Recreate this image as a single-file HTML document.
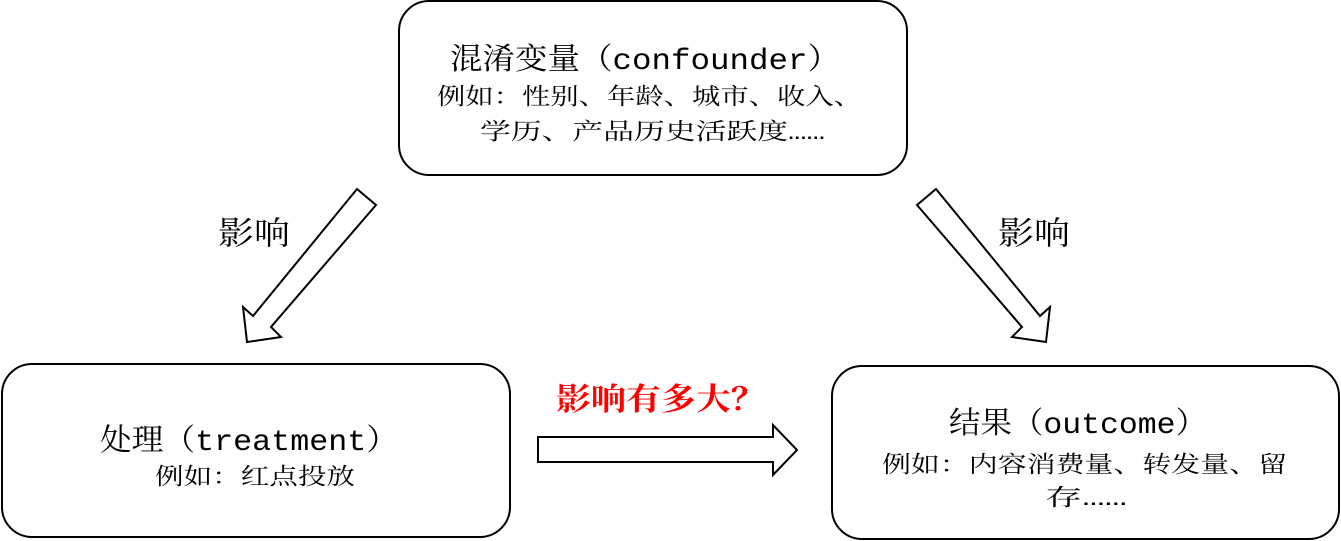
<!DOCTYPE html>
<html><head><meta charset="utf-8"><style>
html,body{margin:0;padding:0;background:#fff;width:1341px;height:541px;overflow:hidden}
text{font-family:"Liberation Mono","Noto Serif CJK SC",serif;fill:#000}
</style></head><body>
<svg width="1341" height="541" viewBox="0 0 1341 541" xmlns="http://www.w3.org/2000/svg">
<g fill="#fff" stroke="#000" stroke-width="2">
<rect x="399" y="1" width="508" height="174" rx="30"/>
<rect x="2" y="364" width="508" height="173" rx="30"/>
<rect x="832" y="366" width="507" height="173" rx="30"/>
<polygon points="357,189 376,205 271,327 281,337 247,342 243,307 253,316"/>
<polygon points="936,189 917,205 1022,327 1012,337 1046,342 1050,307 1040,316"/>
<polygon points="538,437 773,437 773,425 797,450 773,475 773,462 538,462"/>
</g>
<text x="450" y="69" font-size="30" textLength="390" lengthAdjust="spacingAndGlyphs">混淆变量（confounder）</text>
<text x="437" y="104" font-size="23" textLength="425" lengthAdjust="spacingAndGlyphs">例如：性别、年龄、城市、收入、</text>
<text x="480" y="139" font-size="23" textLength="345" lengthAdjust="spacingAndGlyphs">学历、产品历史活跃度……</text>
<text x="100" y="450" font-size="30" textLength="298" lengthAdjust="spacingAndGlyphs">处理（treatment）</text>
<text x="155" y="484" font-size="23" textLength="200" lengthAdjust="spacingAndGlyphs">例如：红点投放</text>
<text x="949" y="433" font-size="30" textLength="258" lengthAdjust="spacingAndGlyphs">结果（outcome）</text>
<text x="882" y="472" font-size="23" textLength="405" lengthAdjust="spacingAndGlyphs">例如：内容消费量、转发量、留</text>
<text x="1045" y="505" font-size="23" textLength="82" lengthAdjust="spacingAndGlyphs">存……</text>
<text x="218" y="244" font-size="32" textLength="72" lengthAdjust="spacingAndGlyphs">影响</text>
<text x="998" y="244" font-size="32" textLength="72" lengthAdjust="spacingAndGlyphs">影响</text>
<text x="556" y="410" font-size="31" font-weight="bold" style="fill:#f00" textLength="210" lengthAdjust="spacingAndGlyphs">影响有多大？</text>
</svg>
</body></html>
